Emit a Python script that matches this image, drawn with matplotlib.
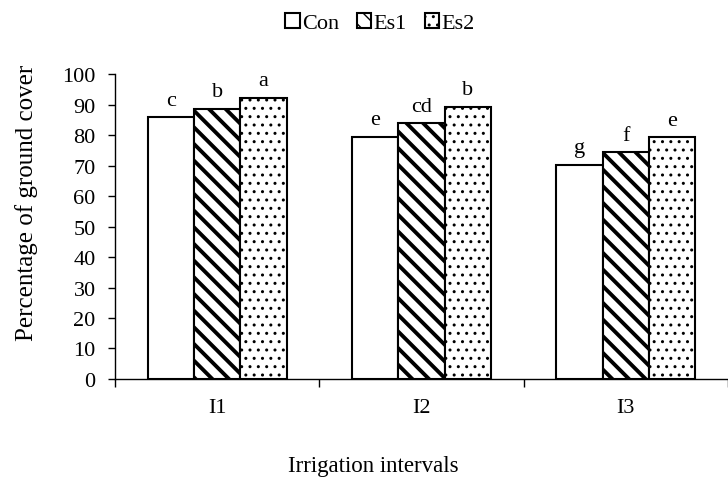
import numpy as np
import matplotlib
matplotlib.use("Agg")
import matplotlib.pyplot as plt

# data
groups = ["I1", "I2", "I3"]
series = ["Con", "Es1", "Es2"]
con = [85.8, 79.5, 70.2]
es1 = [88.5, 83.8, 74.3]
es2 = [92.2, 89.3, 79.3]
letters_con = ["c", "e", "g"]
letters_es1 = ["b", "cd", "f"]
letters_es2 = ["a", "b", "e"]

plt.rcParams["font.family"] = ["Liberation Serif", "DejaVu Serif"]

fig = plt.figure(figsize=(7.28, 4.81), dpi=100)
ax = fig.add_axes([0.158, 0.21, 0.842, 0.634])

x = np.arange(len(groups))
w = 0.227
values = [con, es1, es2]
letters = [letters_con, letters_es1, letters_es2]
hatches = [None, "\\\\", ".."]
hatch_lw = [1.0, 2.8, 1.0]

for i, (vals, lab, h) in enumerate(zip(values, letters, hatches)):
    pos = x + (i - 1) * w
    with plt.rc_context({"hatch.linewidth": hatch_lw[i]}):
        bars = ax.bar(pos, vals, w, color="white", edgecolor="black",
                      linewidth=1.5, hatch=h, label=series[i])
    for b in bars:
        if hasattr(b, "set_hatch_linewidth"):
            b.set_hatch_linewidth(hatch_lw[i])
    for p, v, t in zip(pos, vals, lab):
        ax.text(p, v + 2.5, t, ha="center", va="bottom", fontsize=16)

ax.set_xlim(-0.5, 2.5)
ax.set_ylim(0, 100)
ax.set_yticks(range(0, 101, 10))
ax.set_xticks(x)
ax.set_xticklabels(groups)
ax.set_xticks([-0.5, 0.5, 1.5, 2.5], minor=True)
ax.tick_params(axis="x", which="major", length=0, labelsize=16, pad=14)
ax.tick_params(axis="x", which="minor", length=6, direction="out", width=1)
ax.tick_params(axis="y", length=5, width=1, labelsize=16, pad=9)
for s in ["top", "right"]:
    ax.spines[s].set_visible(False)
ax.spines["left"].set_linewidth(1)
ax.spines["bottom"].set_linewidth(1)

ax.set_ylabel("Percentage of ground cover", fontsize=18)
ax.yaxis.set_label_coords(-0.125, 0.58)
fig.text(0.513, 0.031, "Irrigation intervals", ha="center", va="center", fontsize=16.5)

fig.legend(loc="upper center", bbox_to_anchor=(0.522, 1.012), ncol=3,
           frameon=False, fontsize=16, handlelength=0.65, handleheight=0.65,
           handletextpad=0.1, columnspacing=0.8)

fig.savefig("out.png", dpi=100)
